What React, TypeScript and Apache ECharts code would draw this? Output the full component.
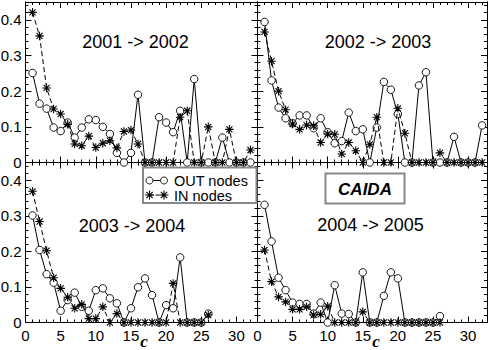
import React, { useEffect, useRef } from 'react';
import * as echarts from 'echarts';

// c values
const cLong = Array.from({ length: 32 }, (_, i) => i + 1);
const cShort = Array.from({ length: 26 }, (_, i) => i + 1);

// 2001 -> 2002
const out0102 = [0.251, 0.165, 0.151, 0.098, 0.088, 0.112, 0.07, 0.098, 0.121, 0.119, 0.1, 0.08, 0.027, 0, 0.027, 0.19, 0, 0, 0.127, 0.112, 0.085, 0.145, 0, 0.234, 0, 0, 0, 0.07, 0, 0, 0, 0];
const in0102 = [0.421, 0.355, 0.209, 0.15, 0.136, 0.107, 0.052, 0.047, 0.074, 0.042, 0.054, 0.061, 0.041, 0.087, 0.091, 0.052, 0, 0, 0, 0, 0, 0.127, 0.145, 0, 0, 0.1, 0, 0, 0.093, 0, 0, 0.035];
// 2002 -> 2003
const out0203 = [0.394, 0.23, 0.154, 0.124, 0.11, 0.132, 0.132, 0.096, 0.124, 0.085, 0.054, 0.06, 0.14, 0.088, 0.093, 0, 0.098, 0.226, 0.204, 0.136, 0, 0, 0.216, 0.253, 0, 0, 0, 0.072, 0, 0, 0, 0.104];
const in0203 = [0.366, 0.284, 0.2, 0.148, 0.108, 0.093, 0.105, 0.103, 0.056, 0.08, 0.079, 0.024, 0.056, 0.033, 0, 0.051, 0.127, 0, 0, 0.152, 0.082, 0, 0, 0, 0, 0.027, 0, 0, 0, 0, 0, 0];
// 2003 -> 2004
const out0304 = [0.301, 0.204, 0.136, 0.112, 0.033, 0.063, 0.084, 0.044, 0.033, 0.091, 0.096, 0.068, 0.054, 0, 0.04, 0.099, 0.124, 0.077, 0, 0.049, 0.04, 0.183, 0, 0, 0, 0.025];
const in0304 = [0.369, 0.284, 0.202, 0.126, 0.096, 0.071, 0.04, 0.051, 0.011, 0.011, 0.044, 0, 0.025, 0, 0, 0, 0, 0, 0, 0, 0.11, 0, 0, 0, 0, 0.021];
// 2004 -> 2005
const out0405 = [0.331, 0.228, 0.126, 0.091, 0.056, 0.052, 0.052, 0.025, 0.056, 0, 0.105, 0.025, 0.024, 0, 0.141, 0, 0, 0.075, 0.141, 0.124, 0, 0, 0, 0, 0, 0.018];
const in0405 = [0.204, 0.115, 0.072, 0.058, 0.037, 0.037, 0.044, 0.021, 0.023, 0.046, 0, 0, 0, 0, 0.03, 0, 0, 0, 0, 0, 0, 0, 0, 0, 0, 0];

const panelTitles = ['2001 -> 2002', '2002 -> 2003', '2003 -> 2004', '2004 -> 2005'];
const legendLabels = ['OUT nodes', 'IN nodes'];
const xAxisTitle = 'c';
const badge = 'CAIDA';

const STAR_D = 'M0,-4.5L0,4.5M-4.5,0L4.5,0M-3.2,-3.2L3.2,3.2M-3.2,3.2L3.2,-3.2';
const STAR_SYMBOL = 'path://' + STAR_D;

const FONT = "'Liberation Sans', Arial, Helvetica, sans-serif";

export default function App() {
  const ref = useRef<HTMLDivElement>(null);
  useEffect(() => {
    if (!ref.current) return;
    try {
      echarts.graphic.registerShape('starsym', echarts.graphic.extendPath(STAR_D, {}) as any);
    } catch (e) {}
    const chart = echarts.init(ref.current, null, { renderer: 'svg' });

    const panels = [
      { left: 25.5, top: 2, width: 232, height: 160.5, xmax: 33, showX: false, showY: true, c: cLong, out: out0102, inn: in0102 },
      { left: 257.5, top: 2, width: 229.5, height: 160.5, xmax: 32.7, showX: false, showY: false, c: cLong, out: out0203, inn: in0203 },
      { left: 25.5, top: 162.5, width: 232, height: 160, xmax: 33, showX: true, showY: true, c: cShort, out: out0304, inn: in0304 },
      { left: 257.5, top: 162.5, width: 229.5, height: 160, xmax: 32.7, showX: true, showY: false, c: cShort, out: out0405, inn: in0405 },
    ];

    const line = { show: true, onZero: false, lineStyle: { color: '#000', width: 1 } };
    const grids: any[] = [];
    const xAxes: any[] = [];
    const yAxes: any[] = [];
    const series: any[] = [];

    panels.forEach((p, g) => {
      grids.push({ left: p.left, top: p.top, width: p.width, height: p.height, containLabel: false, outerBoundsMode: 'none' });
      const xa = (position: string, interval: number, len: number, labels: boolean) => ({
        type: 'value', gridIndex: g, min: 0, max: p.xmax, interval, position,
        axisLine: line,
        axisTick: { show: true, inside: true, length: len, lineStyle: { color: '#000', width: 1 } },
        axisLabel: { show: labels, showMaxLabel: false, margin: 5, fontSize: 15, color: '#000', fontFamily: FONT },
        splitLine: { show: false },
      });
      const ya = (position: string, interval: number, len: number, labels: boolean) => ({
        type: 'value', gridIndex: g, min: 0, max: 0.45, interval, position,
        axisLine: line,
        axisTick: { show: true, inside: true, length: len, lineStyle: { color: '#000', width: 1 } },
        axisLabel: { show: labels, showMaxLabel: false, margin: 4, fontSize: 15, color: '#000', fontFamily: FONT },
        splitLine: { show: false },
      });
      xAxes.push(xa('bottom', 5, 6, p.showX), xa('bottom', 1, 3, false), xa('top', 5, 6, false), xa('top', 1, 3, false));
      yAxes.push(ya('left', 0.1, 6, p.showY), ya('left', 0.02, 3, false), ya('right', 0.1, 6, false), ya('right', 0.02, 3, false));

      series.push({
        type: 'line', xAxisIndex: g * 4, yAxisIndex: g * 4,
        data: p.c.map((c, i) => [c, p.out[i]]),
        symbol: 'circle', symbolSize: 7.5, showSymbol: true,
        lineStyle: { color: '#000', width: 1 },
        itemStyle: { color: '#fff', borderColor: '#000', borderWidth: 0.9 },
        z: 3,
      });
      series.push({
        type: 'line', xAxisIndex: g * 4, yAxisIndex: g * 4,
        data: p.c.map((c, i) => [c, p.inn[i]]),
        symbol: STAR_SYMBOL, symbolSize: 8.5, showSymbol: true,
        lineStyle: { color: '#000', width: 1, type: [5, 3] },
        itemStyle: { color: '#000', borderColor: '#000', borderWidth: 1.1 },
        z: 4,
      });
    });

    const titlePos = [[135.5, 41.5], [378, 41.5], [132, 225.5], [370.5, 224.5]];
    const graphic: any[] = [];
    panelTitles.forEach((t, i) => {
      graphic.push({
        type: 'text', x: titlePos[i][0], y: titlePos[i][1], z: 10,
        style: { text: t, fill: '#000', font: `18px ${FONT}`, textAlign: 'center', textVerticalAlign: 'middle' },
      });
    });
    // axis titles
    [144, 376].forEach((x) => {
      graphic.push({
        type: 'text', x, y: 341, z: 10,
        style: { text: xAxisTitle, fill: '#000', font: `italic bold 17px 'Liberation Serif', 'Times New Roman', serif`, textAlign: 'center', textVerticalAlign: 'middle' },
      });
    });
    // legend box
    graphic.push({
      type: 'rect', z: 20, shape: { x: 143, y: 167.5, width: 113.5, height: 35.5 },
      style: { fill: '#fff', stroke: '#888', lineWidth: 2 },
    });
    const lx1 = 149.5;
    const lx2 = 164;
    graphic.push({ type: 'line', z: 21, shape: { x1: lx1, y1: 180.5, x2: lx2, y2: 180.5 }, style: { stroke: '#000', lineWidth: 1 } });
    graphic.push({ type: 'circle', z: 22, shape: { cx: lx1, cy: 180.5, r: 3.5 }, style: { fill: '#fff', stroke: '#000', lineWidth: 0.9 } });
    graphic.push({ type: 'circle', z: 22, shape: { cx: lx2, cy: 180.5, r: 3.5 }, style: { fill: '#fff', stroke: '#000', lineWidth: 0.9 } });
    graphic.push({ type: 'line', z: 21, shape: { x1: lx1, y1: 195, x2: lx2, y2: 195 }, style: { stroke: '#000', lineWidth: 1, lineDash: [4, 2] } });
    graphic.push({ type: 'starsym', z: 22, x: lx1, y: 195, style: { fill: 'none', stroke: '#000', lineWidth: 1.1 } });
    graphic.push({ type: 'starsym', z: 22, x: lx2, y: 195, style: { fill: 'none', stroke: '#000', lineWidth: 1.1 } });
    graphic.push({ type: 'text', z: 22, x: 174, y: 180.5, style: { text: legendLabels[0], fill: '#000', font: `14.5px ${FONT}`, textAlign: 'left', textVerticalAlign: 'middle' } });
    graphic.push({ type: 'text', z: 22, x: 174, y: 195.5, style: { text: legendLabels[1], fill: '#000', font: `14.5px ${FONT}`, textAlign: 'left', textVerticalAlign: 'middle' } });
    // CAIDA box
    graphic.push({
      type: 'rect', z: 20, shape: { x: 325.5, y: 173.5, width: 79, height: 30 },
      style: { fill: '#fff', stroke: '#888', lineWidth: 2 },
    });
    graphic.push({ type: 'text', z: 22, x: 365, y: 189, style: { text: badge, fill: '#000', font: `italic bold 17px ${FONT}`, textAlign: 'center', textVerticalAlign: 'middle' } });

    chart.setOption({
      animation: false,
      backgroundColor: '#fff',
      grid: grids,
      xAxis: xAxes,
      yAxis: yAxes,
      series,
      graphic,
    });
    return () => chart.dispose();
  }, []);
  return <div ref={ref} style={{ position: 'absolute', left: 0, top: 0, width: 491, height: 350 }} />;
}
